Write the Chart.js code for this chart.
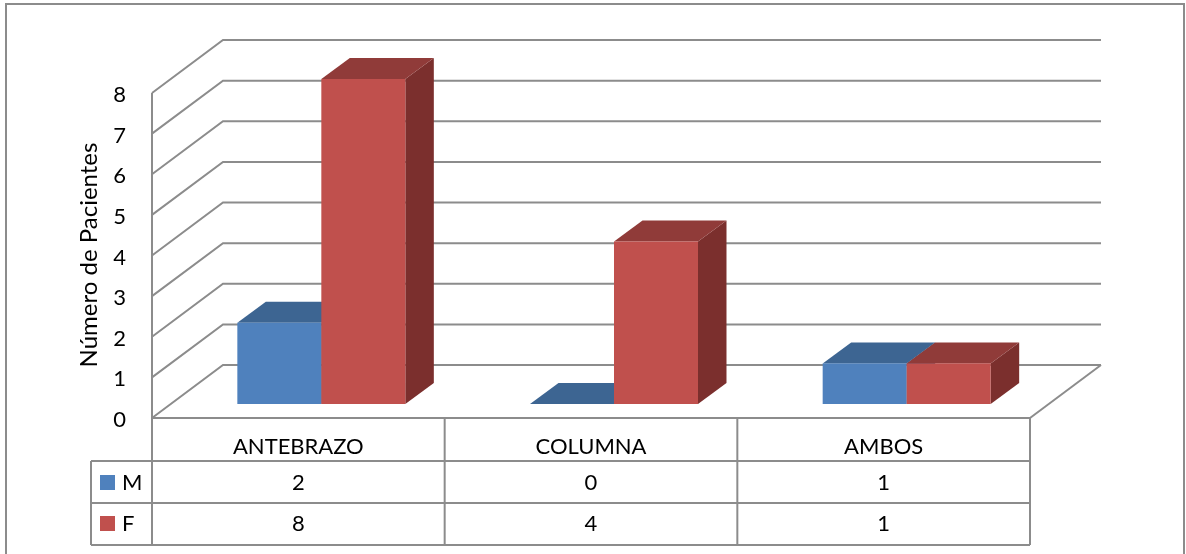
<!DOCTYPE html>
<html>
<head>
<meta charset="utf-8">
<script src="https://cdn.jsdelivr.net/npm/chart.js@4.4.1/dist/chart.umd.min.js"></script>
<style>
  html, body { margin: 0; padding: 0; background: #ffffff; }
  canvas { display: block; }
</style>
</head>
<body>
<canvas id="c" width="1186" height="554"></canvas>
<script>
// ---- data ----
const categories = ['ANTEBRAZO', 'COLUMNA', 'AMBOS'];
const seriesNames = ['M', 'F'];
const valuesM = [2, 0, 1];
const valuesF = [8, 4, 1];
const yTicks = [0, 1, 2, 3, 4, 5, 6, 7, 8];
const yTitle = 'Número de Pacientes';

// ---- styling ----
const FONT = 'Lato, "Open Sans", "DejaVu Sans", sans-serif';
const TEXT_SIZE = 22;
const TITLE_SIZE = 24;
const faces = [
  { front: '#4f81bd', top: '#3d6592', side: '#34577f' },
  { front: '#c0504d', top: '#903b39', side: '#7b2f2d' }
];
const LINE = '#8c8c8c';
// oblique projection offsets
const WALL = { dx: 71, dy: -53 };        // depth of floor / side wall
const BAR_OFF = { dx: 23, dy: -14 };     // where the bar front faces sit
const BAR_DEPTH = { dx: 28.5, dy: -21 }; // thickness of each column
// data table rows
const ROW_TOP = 418, ROW_H = [43, 42, 42];
const TABLE_LEFT = 91;

function line(ctx, pts) {
  ctx.beginPath();
  ctx.moveTo(pts[0][0], pts[0][1]);
  for (let i = 1; i < pts.length; i++) ctx.lineTo(pts[i][0], pts[i][1]);
  ctx.stroke();
}
function poly(ctx, pts, color) {
  ctx.beginPath();
  ctx.moveTo(pts[0][0], pts[0][1]);
  for (let i = 1; i < pts.length; i++) ctx.lineTo(pts[i][0], pts[i][1]);
  ctx.closePath();
  ctx.fillStyle = color;
  ctx.fill();
}

const frame3d = {
  id: 'frame3d',
  beforeDatasetsDraw(chart) {
    const ctx = chart.ctx;
    const { left, right } = chart.chartArea;
    const ys = chart.scales.y;
    const xs = chart.scales.x;
    const y0 = ys.getPixelForValue(0);
    const yTop = ys.getPixelForValue(yTicks[yTicks.length - 1]);
    ctx.save();

    // outer frame
    ctx.strokeStyle = LINE;
    ctx.lineWidth = 2;
    ctx.strokeRect(6, 4, 1178, 600);

    // side wall diagonals + back wall gridlines
    yTicks.forEach(v => {
      const yf = ys.getPixelForValue(v);
      line(ctx, [[left, yf], [left + WALL.dx, yf + WALL.dy], [right + WALL.dx, yf + WALL.dy]]);
    });
    // floor right edge
    line(ctx, [[right, y0], [right + WALL.dx, y0 + WALL.dy]]);

    // data table grid
    const rowY = [ROW_TOP];
    ROW_H.forEach(h => rowY.push(rowY[rowY.length - 1] + h));
    const bottom = rowY[rowY.length - 1];
    line(ctx, [[left, y0], [right, y0]]);
    for (let r = 1; r < rowY.length; r++) line(ctx, [[TABLE_LEFT, rowY[r]], [right, rowY[r]]]);
    line(ctx, [[left, yTop], [left, bottom]]);
    line(ctx, [[TABLE_LEFT, rowY[1]], [TABLE_LEFT, bottom]]);
    const catW = (right - left) / categories.length;
    for (let i = 1; i <= categories.length; i++) {
      line(ctx, [[left + i * catW, y0], [left + i * catW, bottom]]);
    }

    // y tick labels
    ctx.fillStyle = '#000000';
    ctx.font = `${TEXT_SIZE}px ${FONT}`;
    ctx.textAlign = 'right';
    ctx.textBaseline = 'middle';
    yTicks.forEach(v => {
      ctx.fillText(String(v), 126, ys.getPixelForValue(v) + 2);
    });

    // y axis title
    ctx.save();
    ctx.font = `${TITLE_SIZE}px ${FONT}`;
    ctx.translate(89, 255);
    ctx.rotate(-Math.PI / 2);
    ctx.textAlign = 'center';
    ctx.textBaseline = 'middle';
    ctx.fillText(yTitle, 0, 0);
    ctx.restore();

    // table contents
    ctx.textAlign = 'center';
    ctx.textBaseline = 'alphabetic';
    const baselines = [454, 490, 531];
    categories.forEach((c, i) => {
      const cx = xs.getPixelForValue(i);
      ctx.fillText(c, cx, baselines[0]);
      chart.data.datasets.forEach((ds, d) => {
        ctx.fillText(String(ds.data[i]), cx, baselines[d + 1]);
      });
    });
    // legend keys
    chart.data.datasets.forEach((ds, d) => {
      const b = baselines[d + 1];
      ctx.fillStyle = faces[d].front;
      ctx.fillRect(100, b - 15, 15, 15);
      ctx.fillStyle = '#000000';
      ctx.textAlign = 'left';
      ctx.fillText(ds.label, 122, b);
    });
    ctx.restore();
  },
  beforeDatasetDraw() {
    // columns are drawn as 3D blocks below
    return false;
  },
  afterDatasetsDraw(chart) {
    const ctx = chart.ctx;
    const metas = chart.data.datasets.map((_, d) => chart.getDatasetMeta(d));
    ctx.save();
    categories.forEach((_, i) => {
      metas.forEach((meta, d) => {
        const el = meta.data[i];
        const { x, y, base, width } = el.getProps(['x', 'y', 'base', 'width'], true);
        const l = x - width / 2 + BAR_OFF.dx;
        const r = x + width / 2 + BAR_OFF.dx;
        const t = y + BAR_OFF.dy;
        const b = base + BAR_OFF.dy;
        const f = faces[d];
        // right side
        poly(ctx, [[r, t], [r + BAR_DEPTH.dx, t + BAR_DEPTH.dy], [r + BAR_DEPTH.dx, b + BAR_DEPTH.dy], [r, b]], f.side);
        // top
        poly(ctx, [[l, t], [l + BAR_DEPTH.dx, t + BAR_DEPTH.dy], [r + BAR_DEPTH.dx, t + BAR_DEPTH.dy], [r, t]], f.top);
        // front
        if (b - t > 0.5) {
          ctx.fillStyle = f.front;
          ctx.fillRect(l, t, r - l, b - t);
        }
      });
    });
    ctx.restore();
  }
};

new Chart(document.getElementById('c'), {
  type: 'bar',
  data: {
    labels: categories,
    datasets: [
      { label: seriesNames[0], data: valuesM, backgroundColor: faces[0].front },
      { label: seriesNames[1], data: valuesF, backgroundColor: faces[1].front }
    ]
  },
  options: {
    responsive: false,
    animation: false,
    devicePixelRatio: 1,
    layout: { padding: { left: 152, top: 93, right: 156, bottom: 136 } },
    datasets: { bar: { categoryPercentage: 0.574, barPercentage: 1 } },
    scales: {
      x: { display: false },
      y: { display: false, min: 0, max: 8 }
    },
    plugins: { legend: { display: false }, tooltip: { enabled: false }, title: { display: false } }
  },
  plugins: [frame3d]
});
</script>
</body>
</html>
